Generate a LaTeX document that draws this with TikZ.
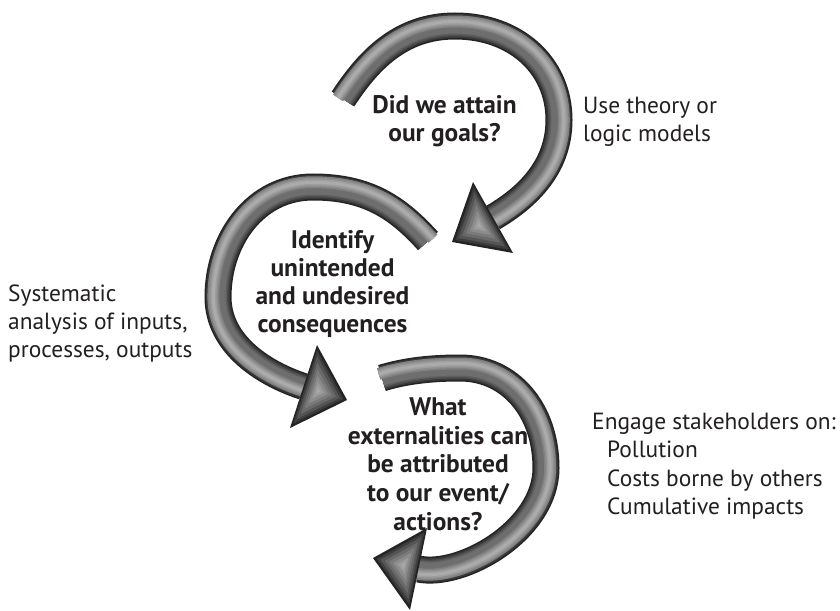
\documentclass[tikz,border=0pt]{standalone}
\usepackage{fontspec}
\setmainfont{PT Sans}
\usetikzlibrary{calc}
\definecolor{txt}{HTML}{231F20}
\newcommand{\drawtube}[2]{% path, centre of the bend
  \foreach \w/\p in {27/86,24/78,21/70,18/63,15/57}{%
    \draw[line width=\w pt, black!\p] #1;
  }%
  \foreach \w/\p in {12/50,9/44,6/38,3/33}{%
    \draw[line width=\w pt, black!\p, scale around={1.045:#2}] #1;
  }%
}
\newcommand{\drawhead}[4]{% name, base1, base2, tip
  \coordinate (#1c) at ($1/3*(#2)+1/3*(#3)+1/3*(#4)$);
  \foreach \s/\p in {1/86,0.88/76,0.76/67,0.62/59,0.48/52,0.34/45,0.2/39,0.08/34}{%
    \fill[black!\p] ($(#1c)!\s!(#2)$) -- ($(#1c)!\s!(#3)$) -- ($(#1c)!\s!(#4)$) -- cycle;
  }%
}
\tikzset{
  qlabel/.style={text=txt, align=center, font=\bfseries\fontsize{25.4}{28}\selectfont, inner sep=0pt},
  note/.style={text=txt, align=left, font=\fontsize{23.4}{28}\selectfont, inner sep=0pt},
}
\begin{document}
\begin{tikzpicture}[x=1pt, y=-1pt, line cap=butt]
\useasboundingbox (0,0) rectangle (840,610);
\fill[white] (0,0) rectangle (840,610);

% arrow 1 (top)
\coordinate (a1b1) at (473,182);
\coordinate (a1b2) at (513,253);
\coordinate (a1tip) at (452,242);
\drawtube{(343,99) .. controls (368,61) and (400,26) .. (455,26) .. controls (515,26) and (559,65) .. (559,120) .. controls (559,170) and (523,200) .. (493,217.5)}{(452,125)}
\drawhead{h1}{a1b1}{a1b2}{a1tip}

% arrow 2 (middle)
\coordinate (a2b1) at (317,345);
\coordinate (a2b2) at (290,428);
\coordinate (a2tip) at (347,400);
\drawtube{(428,241) .. controls (398,208) and (368,187) .. (313,187) .. controls (255,187) and (218,240) .. (218,297) .. controls (218,345) and (265,374) .. (303.5,386.5)}{(320,292)}
\drawhead{h2}{a2b1}{a2b2}{a2tip}

% arrow 3 (bottom)
\coordinate (a3b1) at (427,528);
\coordinate (a3b2) at (410,610);
\coordinate (a3tip) at (373,558);
\drawtube{(382,378) .. controls (405,371) and (430,368) .. (460,368) .. controls (510,368) and (546,410) .. (546,468) .. controls (546,530) and (462,578) .. (418.5,569)}{(455,468)}
\drawhead{h3}{a3b1}{a3b2}{a3tip}

% labels
\node[qlabel] (q1) at (444.5,121) {Did we attain\\our goals?};
\node[qlabel] (q2) at (332.5,284) {Identify\\unintended\\and undesired\\consequences};
\node[qlabel, font=\bfseries\fontsize{25.4}{28.7}\selectfont] (q3) at (438,464) {What\\externalities can\\be attributed\\to our event/\\actions?};

\node[note, anchor=west] (n1) at (583,122) {Use theory or\\logic models};
\node[note, anchor=west] (n2) at (8,324) {Systematic\\analysis of inputs,\\processes, outputs};
\node[note, anchor=west, font=\fontsize{23.4}{28.5}\selectfont] (n3) at (592,466) {Engage stakeholders on:\\\hspace*{15pt}Pollution\\\hspace*{15pt}Costs borne by others\\\hspace*{15pt}Cumulative impacts};
\end{tikzpicture}
\end{document}
